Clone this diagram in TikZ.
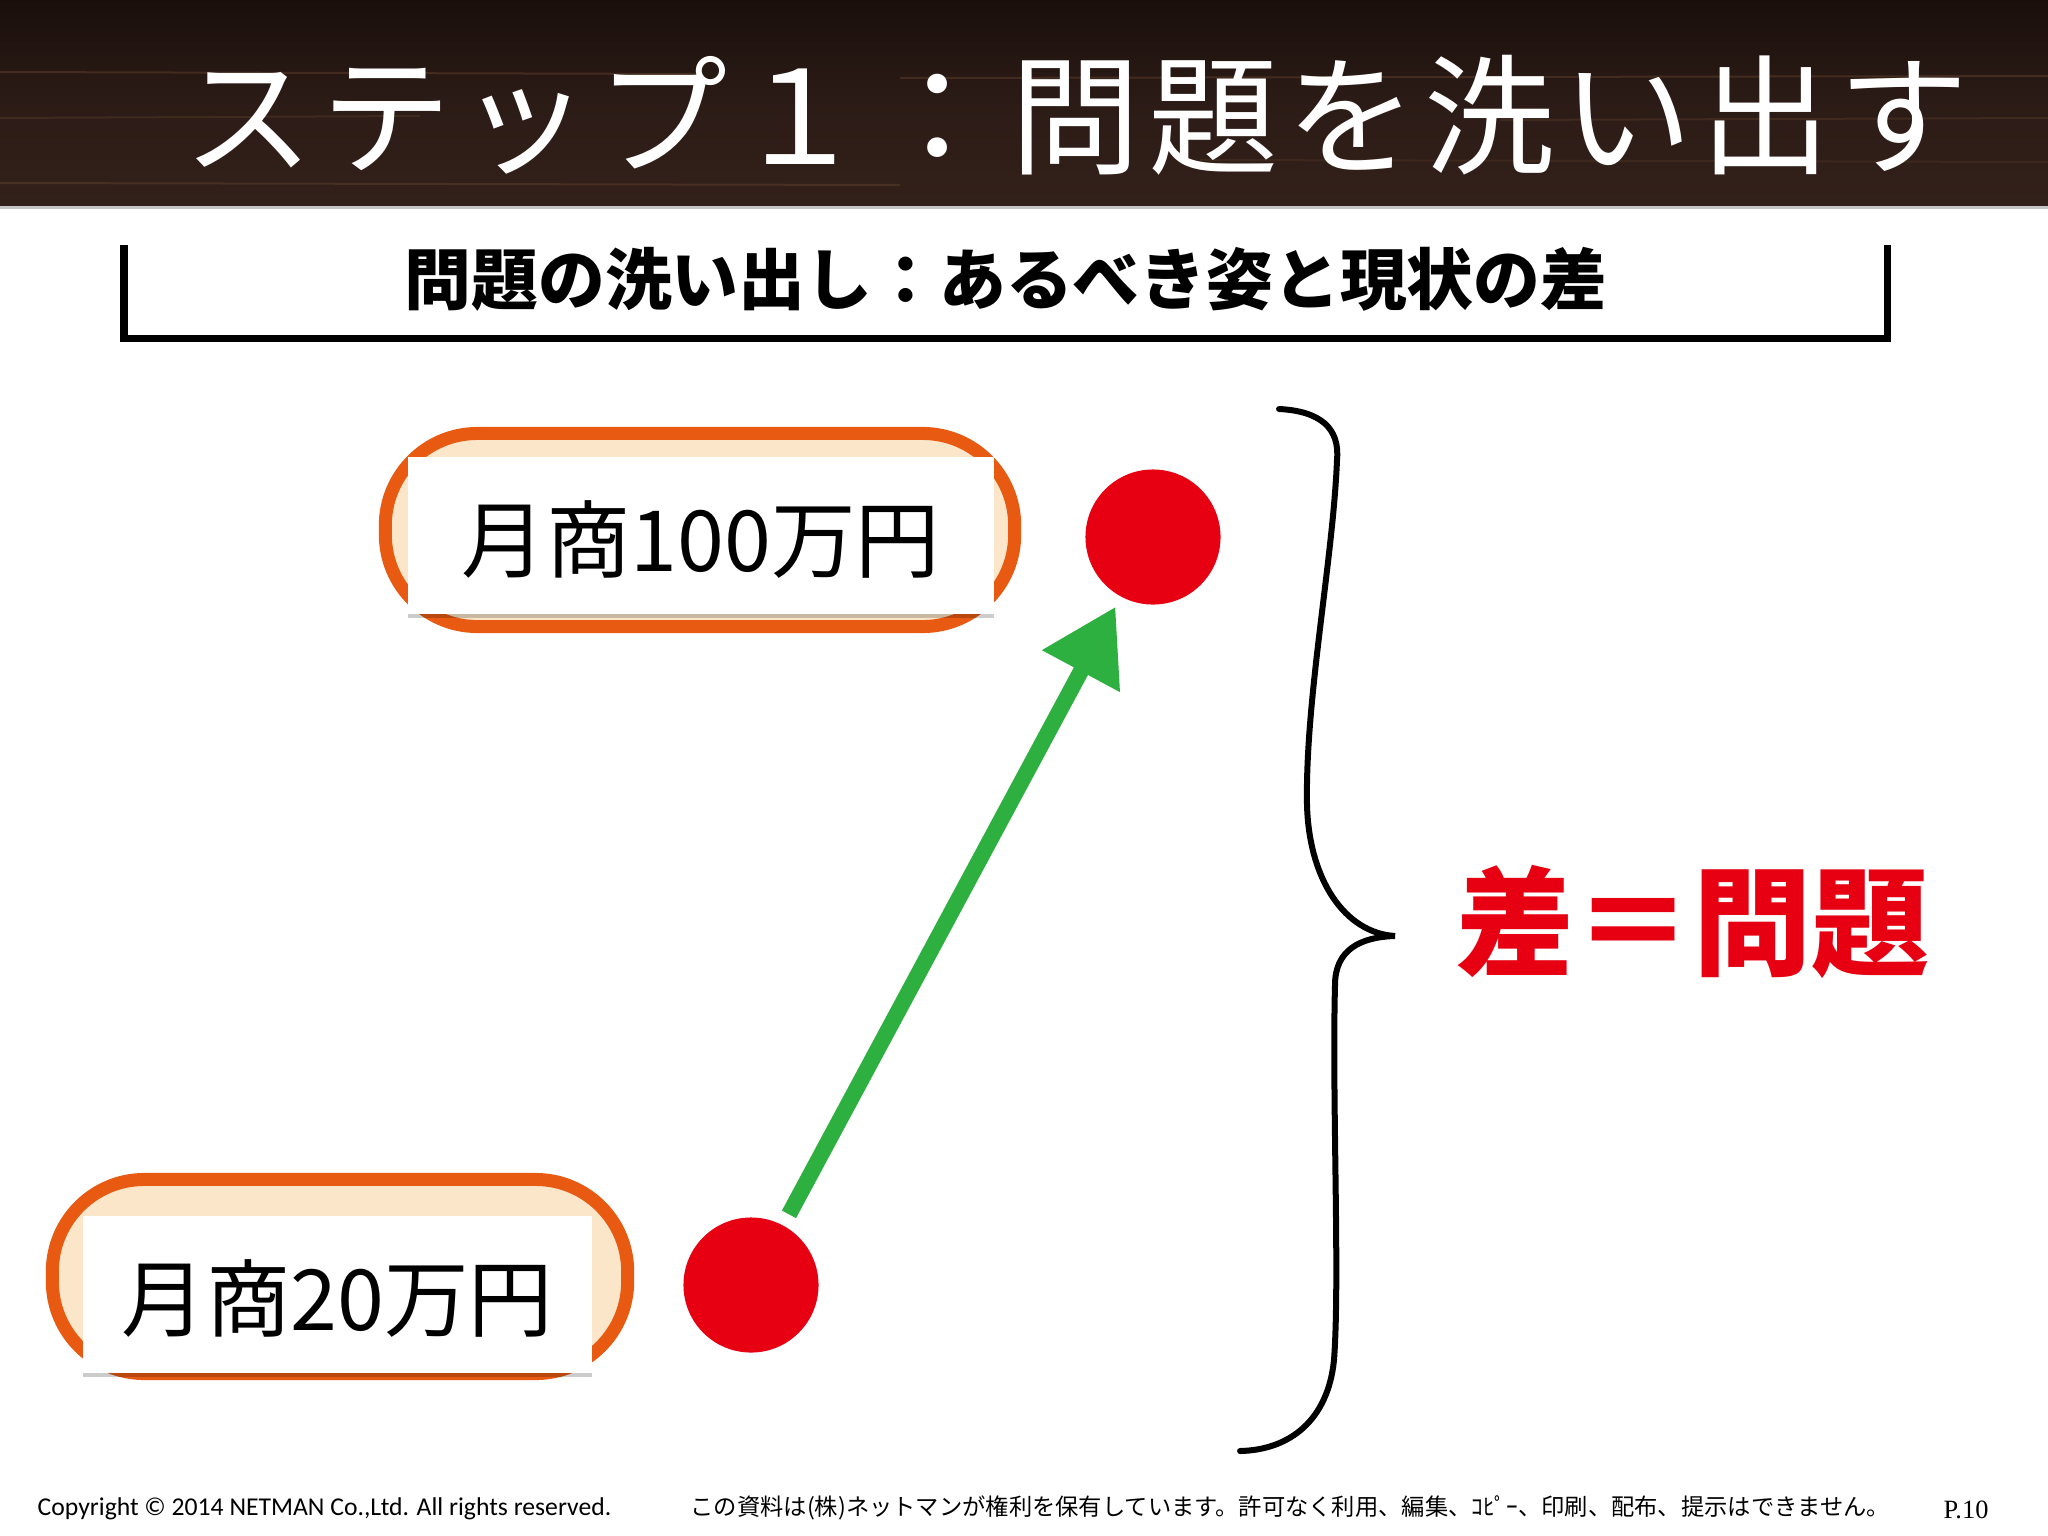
\documentclass[tikz,border=0pt]{standalone}
\usepackage{fontspec}
\setmainfont{Liberation Serif}
\newfontfamily\jp{Noto Sans CJK JP}
\newfontfamily\jptitle[LetterSpace=6]{Noto Sans CJK JP}
\newfontfamily\carl{Carlito}
\usetikzlibrary{arrows.meta,shadows}
\definecolor{barTop}{HTML}{1A0F0B}
\definecolor{barMid}{HTML}{33201A}
\definecolor{streakC}{HTML}{7A5436}
\definecolor{pillLine}{HTML}{E85A12}
\definecolor{pillFill}{HTML}{FCE6C9}
\definecolor{dotRed}{HTML}{E60012}
\definecolor{arrowGreen}{HTML}{2DB040}
\tikzset{
  pill/.style={draw=pillLine, line width=0.13cm, fill=pillFill, rounded corners=0.92cm, inner sep=0pt},
  whitebox/.style={fill=white, inner sep=0pt, drop shadow={shadow xshift=0cm, shadow yshift=-0.04cm, opacity=0.2, fill=black}},
  boxtext/.style={font=\jp\fontsize{24pt}{28pt}\selectfont, text=black},
  reddot/.style={circle, fill=dotRed, inner sep=0pt, minimum size=1.35cm},
  streak/.style={streakC, line width=0.02cm, opacity=0.35},
  bracketline/.style={line width=0.07cm, black},
  bracestyle/.style={line width=0.06cm, black, line cap=round},
  greenarrow/.style={arrowGreen, line width=0.16cm, -{Triangle[length=0.73cm, width=0.84cm]}, shorten <=0.12cm, shorten >=0.11cm},
  foot/.style={inner sep=0pt, anchor=west, text=black}
}
\begin{document}
\begin{tikzpicture}[x=0.01cm, y=-0.01cm]
\useasboundingbox (0,0) rectangle (2048,1536);
\fill[white] (0,0) rectangle (2048,1536);
% title bar
\shade[top color=barTop, bottom color=barMid, middle color=barMid!85!black] (0,0) rectangle (2048,205);
\draw[streak] (0,72) -- (700,74);
\draw[streak] (900,78) -- (2048,76);
\draw[streak, opacity=0.25] (0,118) -- (420,116);
\draw[streak, opacity=0.25] (1500,120) -- (2048,118);
\draw[streak, opacity=0.3] (0,183) -- (900,185);
\draw[streak, opacity=0.2] (1200,160) -- (2048,162);
\draw[gray!45, line width=0.03cm] (0,207) -- (2048,207);
\node[text=white, font=\jptitle\fontsize{37pt}{40pt}\selectfont, inner sep=0pt] (title) at (1076,115) {ステップ１：問題を洗い出す};
% subtitle bracket
\draw[bracketline] (124,245) -- (124,338) -- (1887,338) -- (1887,245);
\node[font=\jp\bfseries\fontsize{19pt}{22pt}\selectfont, inner sep=0pt] (subtitle) at (1006,279) {問題の洗い出し：あるべき姿と現状の差};
% top pill
\node[pill, minimum width=6.29cm, minimum height=1.93cm] (pillTop) at (700,530) {};
\node[whitebox, minimum width=5.86cm, minimum height=1.57cm] (boxTop) at (701,535.5) {};
\node[boxtext] (textTop) at (701,540) {月商100万円};
% bottom pill
\node[pill, minimum width=5.75cm, minimum height=1.94cm] (pillBot) at (340,1276.5) {};
\node[whitebox, minimum width=5.09cm, minimum height=1.57cm] (boxBot) at (337.5,1294.5) {};
\node[boxtext] (textBot) at (337.5,1298) {月商20万円};
% dots
\node[reddot] (dotTop) at (1153,537) {};
\node[reddot] (dotBot) at (751,1285) {};
\draw[greenarrow] (dotBot) -- (dotTop);
% brace
\draw[bracestyle] (1279,409) .. controls (1320,411) and (1340,428) .. (1337,460)
  .. controls (1333,560) and (1305,700) .. (1307,805)
  .. controls (1309,880) and (1345,933) .. (1395,936)
  .. controls (1360,937) and (1335,950) .. (1335,985)
  .. controls (1332,1100) and (1340,1280) .. (1334,1360)
  .. controls (1328,1420) and (1290,1450) .. (1240,1451);
\node[text=dotRed, font=\jp\bfseries\fontsize{33.6pt}{36pt}\selectfont, inner sep=0pt] (result) at (1693,922) {差＝問題};
% footer
\node[foot, font=\carl\fontsize{7.3pt}{8pt}\selectfont] (copy) at (37,1509) {Copyright © 2014 NETMAN Co.,Ltd. All rights reserved.};
\node[foot, font=\jp\fontsize{6.62pt}{8pt}\selectfont] (notice) at (690,1508) {この資料は(株)ネットマンが権利を保有しています。許可なく利用、編集、ｺﾋﾟｰ、印刷、配布、提示はできません。};
\node[foot, font=\fontsize{7.5pt}{9pt}\selectfont] (page) at (1943,1510) {P.10};
\end{tikzpicture}
\end{document}
